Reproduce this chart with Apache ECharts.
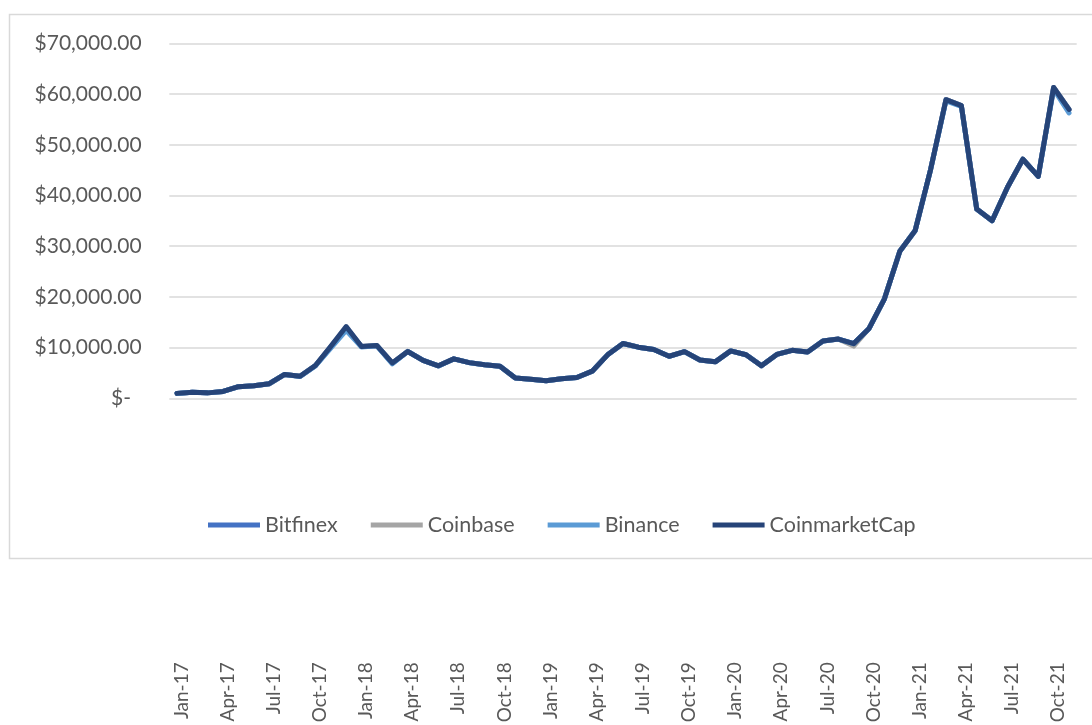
<!DOCTYPE html>
<html>
<head>
<meta charset="utf-8">
<script src="https://cdn.jsdelivr.net/npm/echarts@6/dist/echarts.min.js"></script>
<style>
  html, body { margin: 0; padding: 0; background: #ffffff; }
  #chart { width: 1092px; height: 725px; }
</style>
</head>
<body>
<div id="chart"></div>
<script>
// Monthly closing prices of Bitcoin (USD), Jan 2017 – Nov 2021, by source
const months = [
  'Jan-17','Feb-17','Mar-17','Apr-17','May-17','Jun-17','Jul-17','Aug-17','Sep-17','Oct-17','Nov-17','Dec-17',
  'Jan-18','Feb-18','Mar-18','Apr-18','May-18','Jun-18','Jul-18','Aug-18','Sep-18','Oct-18','Nov-18','Dec-18',
  'Jan-19','Feb-19','Mar-19','Apr-19','May-19','Jun-19','Jul-19','Aug-19','Sep-19','Oct-19','Nov-19','Dec-19',
  'Jan-20','Feb-20','Mar-20','Apr-20','May-20','Jun-20','Jul-20','Aug-20','Sep-20','Oct-20','Nov-20','Dec-20',
  'Jan-21','Feb-21','Mar-21','Apr-21','May-21','Jun-21','Jul-21','Aug-21','Sep-21','Oct-21','Nov-21'
];

const bitfinex = [
  965.5, 1188.0, 1068.5, 1350.2, 2290.1, 2485.0, 2870.9, 4710.0, 4330.2, 6450.0, 10150.0, 13900.0,
  10200.0, 10380.0, 6930.0, 9250.0, 7500.0, 6400.0, 7790.0, 7040.0, 6630.0, 6320.0, 4020.0, 3740.0,
  3460.0, 3850.0, 4110.0, 5360.0, 8580.0, 10820.0, 10090.0, 9630.0, 8290.0, 9200.0, 7570.0, 7195.0,
  9350.0, 8600.0, 6440.0, 8660.0, 9460.0, 9140.0, 11320.0, 11680.0, 10780.0, 13780.0, 19630.0, 29000.0,
  33110.0, 45140.0, 58920.0, 57750.0, 37330.0, 35040.0, 41630.0, 47170.0, 43790.0, 61320.0, 57000.0
];

const coinbase = [
  968.0, 1189.5, 1070.0, 1348.5, 2285.0, 2482.0, 2873.0, 4705.0, 4335.0, 6460.0, 10100.0, 13800.0,
  10215.0, 10395.0, 6970.0, 9242.0, 7495.0, 6405.0, 7782.0, 7038.0, 6626.0, 6318.0, 4018.0, 3743.0,
  3458.0, 3855.0, 4106.0, 5351.0, 8575.0, 10818.0, 10086.0, 9631.0, 8294.0, 9200.0, 7570.0, 7194.0,
  9351.0, 8600.0, 6439.0, 8659.0, 9461.0, 9138.0, 11324.0, 11681.0, 10300.0, 13781.0, 19626.0, 29002.0,
  33114.0, 45138.0, 58919.0, 57750.0, 37333.0, 35041.0, 41626.0, 47167.0, 43791.0, 61319.0, 57005.0
];

const binance = [
  970.0, 1190.0, 1071.0, 1348.0, 2286.0, 2480.0, 2875.0, 4700.0, 4300.0, 6400.0, 9900.0, 13400.0,
  10100.0, 10350.0, 6800.0, 9230.0, 7490.0, 6390.0, 7770.0, 7030.0, 6620.0, 6310.0, 4010.0, 3735.0,
  3450.0, 3850.0, 4100.0, 5345.0, 8570.0, 10810.0, 10080.0, 9625.0, 8290.0, 9195.0, 7565.0, 7190.0,
  9345.0, 8595.0, 6435.0, 8655.0, 9455.0, 9135.0, 11320.0, 11675.0, 10780.0, 13775.0, 19620.0, 28995.0,
  33110.0, 45130.0, 58700.0, 57600.0, 37300.0, 35030.0, 41620.0, 47160.0, 43780.0, 61000.0, 56300.0
];

const coinmarketcap = [
  970.4, 1190.5, 1071.8, 1347.9, 2286.4, 2480.8, 2875.3, 4703.4, 4338.7, 6468.4, 10233.6, 14156.4,
  10221.1, 10397.9, 6973.5, 9240.6, 7494.2, 6404.0, 7780.4, 7037.6, 6625.6, 6317.6, 4017.3, 3742.7,
  3457.8, 3854.8, 4105.4, 5350.7, 8574.5, 10817.2, 10085.6, 9630.7, 8293.9, 9199.6, 7569.6, 7193.6,
  9350.5, 8599.5, 6438.6, 8658.6, 9461.1, 9138.0, 11323.5, 11680.8, 10784.5, 13781.0, 19625.8, 29001.7,
  33114.4, 45137.8, 58918.8, 57750.2, 37332.9, 35040.8, 41626.2, 47166.7, 43790.9, 61319.0, 57005.4
];

const seriesNames = ['Bitfinex', 'Coinbase', 'Binance', 'CoinmarketCap'];
const seriesColors = ['#4472C4', '#A5A5A5', '#5B9BD5', '#264478'];
const seriesData = [bitfinex, coinbase, binance, coinmarketcap];

const FONT = 'Lato, "Open Sans", sans-serif';
const TEXT_COLOR = '#595959';

function accounting(v) {
  if (v === 0) return '$-  ';
  return '$' + v.toLocaleString('en-US', { minimumFractionDigits: 2, maximumFractionDigits: 2 });
}

const chart = echarts.init(document.getElementById('chart'), null, { renderer: 'canvas' });

chart.setOption({
  backgroundColor: '#ffffff',
  animation: false,
  graphic: [{
    type: 'rect',
    shape: { x: 9.5, y: 14.5, width: 1100, height: 544 },
    style: { fill: 'none', stroke: '#d9d9d9', lineWidth: 1.5 },
    silent: true,
    z: -1
  }],
  grid: {
    left: 169.3, right: 15.3, top: 43.5, bottom: 326.7,
    containLabel: false,
    outerBoundsMode: 'none'
  },
  legend: {
    data: seriesNames.map(n => ({ name: n, icon: 'rect' })),
    left: 203,
    top: 509,
    itemWidth: 52,
    itemHeight: 5,
    itemGap: 33,
    textStyle: { fontFamily: FONT, fontSize: 21.5, color: TEXT_COLOR }
  },
  xAxis: {
    type: 'category',
    data: months,
    boundaryGap: true,
    axisLine: { show: false },
    axisTick: { show: false },
    axisLabel: {
      interval: 2,
      rotate: 90,
      margin: 264,
      verticalAlign: 'top',
      lineHeight: 9,
      fontFamily: FONT,
      fontSize: 19,
      color: TEXT_COLOR
    },
    splitLine: { show: false }
  },
  yAxis: {
    type: 'value',
    min: 0,
    max: 70000,
    interval: 10000,
    axisLine: { show: false },
    axisTick: { show: false },
    axisLabel: {
      margin: 27.6,
      fontFamily: FONT,
      fontSize: 21,
      color: TEXT_COLOR,
      formatter: accounting
    },
    splitLine: { lineStyle: { color: '#d9d9d9', width: 1.5 } }
  },
  series: seriesNames.map((name, i) => ({
    name: name,
    type: 'line',
    data: seriesData[i],
    symbol: 'none',
    smooth: false,
    color: seriesColors[i],
    lineStyle: { color: seriesColors[i], width: 5, join: 'round', cap: 'round' },
    z: 2 + i
  }))
});
</script>
</body>
</html>
